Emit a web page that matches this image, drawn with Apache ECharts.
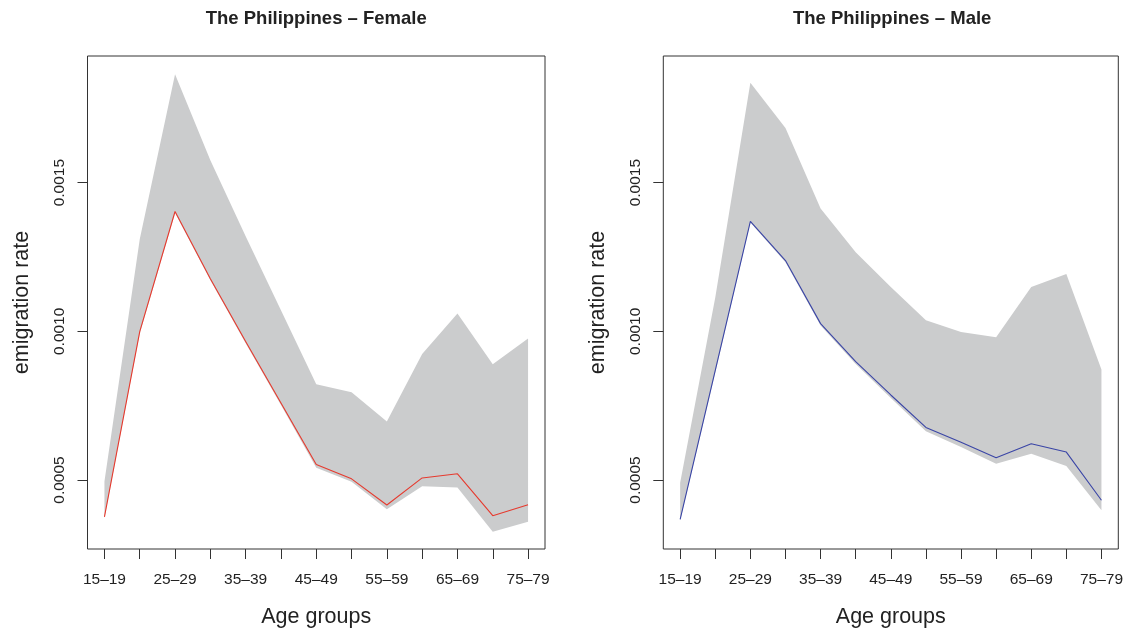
<!DOCTYPE html>
<html>
<head>
<meta charset="utf-8">
<script src="https://cdn.jsdelivr.net/npm/echarts@6/dist/echarts.min.js"></script>
<style>
html,body{margin:0;padding:0;background:#fff;}
#chart{width:1126px;height:633px;}
</style>
</head>
<body>
<div id="chart"></div>
<script>
const ageGroups = ['15–19','20–24','25–29','30–34','35–39','40–44','45–49','50–54','55–59','60–64','65–69','70–74','75–79'];
const yTicks = [0.0005, 0.0010, 0.0015];

const femaleRate  = [0.000376, 0.000999, 0.001403, 0.001177, 0.000966, 0.000759, 0.000552, 0.000504, 0.000416, 0.000507, 0.000521, 0.000380, 0.000417];
const femaleLower = [0.000372, 0.000993, 0.001398, 0.001172, 0.000960, 0.000752, 0.000541, 0.000494, 0.000402, 0.000479, 0.000475, 0.000326, 0.000360];
const femaleUpper = [0.000495, 0.001310, 0.001865, 0.001575, 0.001320, 0.001071, 0.000822, 0.000795, 0.000697, 0.000924, 0.001060, 0.000889, 0.000976];

const maleRate  = [0.000368, 0.000869, 0.001370, 0.001238, 0.001026, 0.000898, 0.000786, 0.000677, 0.000627, 0.000575, 0.000622, 0.000594, 0.000432];
const maleLower = [0.000364, 0.000862, 0.001366, 0.001232, 0.001020, 0.000890, 0.000776, 0.000664, 0.000611, 0.000555, 0.000588, 0.000547, 0.000398];
const maleUpper = [0.000491, 0.001114, 0.001836, 0.001684, 0.001413, 0.001266, 0.001149, 0.001037, 0.000998, 0.000980, 0.001149, 0.001193, 0.000872];

const FONT = "'Liberation Sans', Arial, Helvetica, sans-serif";
const TXT = '#222';
const BAND = '#cbcccd';

const panels = [
  {title: 'The Philippines – Female', rate: femaleRate, lower: femaleLower, upper: femaleUpper, color: '#e63a2e', left: 87.5, right: 581},
  {title: 'The Philippines – Male', rate: maleRate, lower: maleLower, upper: maleUpper, color: '#3a45a6', left: 663.3, right: 5}
];

const xPos = ageGroups.map((_, i) => i + 1);
const labelPos = xPos.filter((_, i) => i % 2 === 0);

const grids = [], xAxes = [], yAxes = [], series = [], graphics = [];
panels.forEach((p, k) => {
  grids.push({left: p.left, right: p.right, top: 56, bottom: 81, show: true,
    borderColor: '#333', borderWidth: 1, backgroundColor: 'transparent'});
  xAxes.push({type: 'value', gridIndex: k, min: 0.52, max: 13.48,
    name: 'Age groups', nameLocation: 'middle', nameGap: 57,
    nameTextStyle: {fontFamily: FONT, fontSize: 21.5, color: TXT},
    axisLine: {show: false}, splitLine: {show: false},
    axisTick: {show: true, customValues: xPos, length: 10, lineStyle: {color: '#333'}},
    axisLabel: {customValues: labelPos, margin: 23, fontFamily: FONT, fontSize: 15.5, color: TXT,
      formatter: v => ageGroups[Math.round(v) - 1]}
  });
  yAxes.push({type: 'value', gridIndex: k, min: 0.000268, max: 0.001926,
    name: 'emigration rate', nameLocation: 'middle', nameGap: 54,
    nameTextStyle: {fontFamily: FONT, fontSize: 21.5, color: TXT},
    axisLine: {show: false}, splitLine: {show: false},
    axisTick: {show: true, customValues: yTicks, length: 10, lineStyle: {color: '#333'}},
    axisLabel: {customValues: yTicks, rotate: 90, margin: 20, fontFamily: FONT, fontSize: 15.5, color: TXT,
      formatter: v => v.toFixed(4)}
  });
  // uncertainty band: one polygon through the library's coordinate system
  series.push({type: 'custom', xAxisIndex: k, yAxisIndex: k, silent: true, z: 1,
    data: p.lower.map((v, i) => [xPos[i], v, p.upper[i]]),
    renderItem: function (params, api) {
      if (params.dataIndex !== 0) return null;
      const pts = [];
      for (let i = 0; i < xPos.length; i++) pts.push(api.coord([xPos[i], p.upper[i]]));
      for (let i = xPos.length - 1; i >= 0; i--) pts.push(api.coord([xPos[i], p.lower[i]]));
      return {type: 'polygon', shape: {points: pts}, style: {fill: BAND, stroke: null}};
    },
    encode: {x: 0, y: [1, 2]}
  });
  series.push({type: 'line', xAxisIndex: k, yAxisIndex: k, symbol: 'none',
    lineStyle: {width: 1.1, color: p.color}, data: p.rate.map((v, i) => [xPos[i], v]), z: 3});
  const cx = p.left + (1126 - p.right - p.left) / 2;
  graphics.push({type: 'text', x: cx, y: 18.5, style: {text: p.title, align: 'center', verticalAlign: 'middle',
    font: "bold 18.5px " + FONT, fill: TXT}});
});

const chart = echarts.init(document.getElementById('chart'), null, {renderer: 'canvas'});
chart.setOption({
  animation: false,
  backgroundColor: '#fff',
  grid: grids, xAxis: xAxes, yAxis: yAxes, series: series, graphic: graphics
});
</script>
</body>
</html>
